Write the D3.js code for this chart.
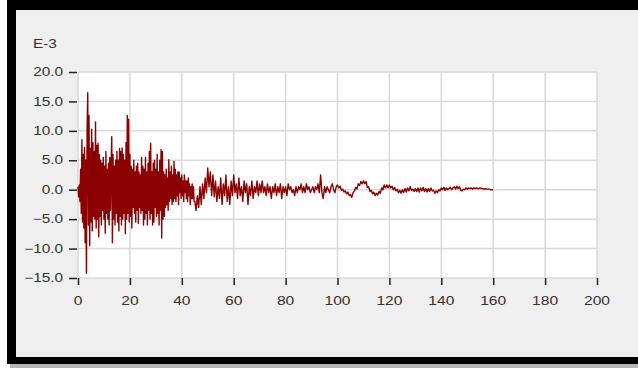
<!DOCTYPE html>
<html>
<head>
<meta charset="utf-8">
<script src="https://cdn.jsdelivr.net/npm/d3@7"></script>
<style>
  html, body { margin: 0; padding: 0; background: #ffffff; }
  svg { display: block; }
</style>
</head>
<body>
<svg id="chart"></svg>
<script>
// time axis ticks (s) and value ticks (E-3)
const xTicks = [0, 20, 40, 60, 80, 100, 120, 140, 160, 180, 200];
const yTicks = [-15, -10, -5, 0, 5, 10, 15, 20];
const unitLabel = "E-3";

// signal: 0..45 s every 0.25 s
const earlyStep = 0.25;
const earlyValues = [
  0.5, -1.2, 0.8, -2.0,   3.5, -4.0, 8.5, -5.5,   6.0, -6.5, 7.2, -9.0,
  5.0, -14.2, 10.0, 16.5, -6.0, 12.6, -9.5, 7.0,  -5.5, 10.3, -7.0, 8.0,
  -4.5, 6.5, -5.0, 11.5,  -6.5, 7.5, -5.0, 7.9,   -8.0, 6.0, -4.5, 5.0,
  -6.0, 4.5, -3.5, 5.5,   -5.0, 4.0, -7.4, 6.5,   -4.0, 3.5, -5.0, 4.5,
  -6.0, 5.5, -3.5, 4.0,   9.0, -9.0, 6.0, -5.0,   4.0, -6.0, 5.0, -4.0,
  6.5, -5.5, 5.0, -7.0,   7.0, -4.5, 6.5, -6.0,   7.1, -5.0, 6.0, -4.0,
  5.0, -7.5, 8.0, -5.0,   12.6, -4.0, 12.0, -5.5, 6.0, -4.5, 4.0, -6.5,
  3.5, -3.0, 5.0, -4.0,   3.0, -5.5, 4.0, -3.5,   4.5, -5.7, 3.0, -3.0,
  2.5, -4.0, 5.5, -3.5,   4.0, -6.0, 3.5, -5.0,   5.5, -4.0, 3.0, -6.0,
  4.5, -3.5, 6.5, -5.0,   7.9, -4.0, 3.0, -6.0,   4.5, -5.5, 5.0, -3.0,
  3.5, -4.5, 6.0, -4.0,   3.0, -6.0, 5.0, -3.5,   6.8, -8.2, 6.5, -5.0,
  3.0, -4.5, 2.5, -3.0,   3.5, -2.5, 2.0, -3.5,   5.1, -2.0, 3.0, -1.5,
  4.0, -2.5, 2.5, -2.0,   4.8, -1.5, 3.5, -2.0,   2.5, -1.0, 3.0, -2.5,
  3.0, -0.5, 2.0, -1.5,   2.5, -1.0, 1.5, -2.0,   2.5, -0.5, 1.5, -1.5,
  1.5, -2.0, 2.0, -1.0,   1.0, -2.5, 0.5, -1.5,   1.0, -1.5, 0.5, -2.0
];

// 45..160 s every 0.5 s
const lateStart = 45;
const lateStep = 0.5;
const lateValues = [
  -2.0, -3.5, -1.0, -3.0, 0.5, -2.5, 1.0, -1.5, 2.0, -0.5,
  3.7, 0.5, 3.0, -1.0, 2.5, -1.2, 1.5, -2.0, 0.5, -1.5,
  2.0, -2.5, 1.0, -1.0, 2.5, -2.0, 0.5, -2.5, 1.5, -1.0,
  2.5, -0.5, 1.0, -1.5, 2.0, -1.0, 0.5, -2.0, 1.5, -0.5,
  1.0, -2.5, 0.5, -1.0, 1.5, -1.5, 0.5, -0.5, 1.5, -1.0,
  1.0, -0.5, 1.5, -0.5, 0.5, -1.0, 1.0, -0.5, 0.5, -1.5,
  0.5, -0.5, 1.0, -1.0, 0.5, -0.5, 1.0, -1.5, 0.5, -0.5,
  0.5, -1.0, 1.0, 0.0, 0.5, -0.5, 0.0, -1.0, 0.5, -0.5,
  0.5, 0.0, 1.0, -0.5, 0.5, -0.5, 1.0, 0.0, 0.5, -0.5,
  0.0, 0.5, -0.5, 0.5, 0.0, 1.0, -0.5, 2.5, -0.5, -1.5,
  0.5, -0.5, 0.5, 0.0, -0.5, 0.5, 1.0, 0.0, -0.5, 0.5,
  0.8, 0.3, 0.6, -0.1, 0.1, -0.4, -0.2, -0.7, -0.4, -1.0,
  -0.8, -1.3, -0.5, -0.2, 0.4, 0.1, 1.0, 0.7, 1.4, 1.0,
  1.5, 1.0, 1.4, 0.4, 0.5, -0.3, -0.1, -0.7, -0.4, -1.0,
  -0.6, -0.9, -0.3, -0.6, 0.3, 0.0, 0.8, 0.3, 0.8, 0.3,
  0.8, 0.3, 0.6, 0.0, 0.4, -0.2, 0.1, -0.5, -0.1, -0.6,
  0.0, -0.5, 0.2, -0.4, 0.3, -0.2, 0.5, -0.1, 0.1, -0.3,
  0.2, -0.3, 0.3, -0.4, 0.3, -0.2, 0.4, -0.3, 0.2, -0.4,
  0.2, -0.3, 0.3, -0.2, -0.1, -0.6, -0.2, -0.5, 0.0, -0.2,
  0.3, 0.0, 0.4, -0.1, 0.3, 0.0, 0.2, 0.4, 0.0, 0.3,
  0.5, 0.1, 0.6, 0.2, 0.5, -0.1, -0.2, 0.1, 0.0, 0.3,
  0.1, 0.3, 0.2, 0.3, 0.1, 0.3, 0.2, 0.3, 0.2, 0.2,
  0.3, 0.2, 0.2, 0.1, 0.2, 0.1, 0.1, 0.1, 0.0, 0.0,
  0.0
];

const W = 638, H = 368;
const plot = { left: 78, right: 597, top: 72, bottom: 278 };
const stretch = 1.28; // labels in the picture are drawn wide

const points = earlyValues.map((v, i) => [i * earlyStep, v])
  .concat(lateValues.map((v, i) => [lateStart + i * lateStep, v]));

const svg = d3.select("#chart")
  .attr("width", W)
  .attr("height", H)
  .attr("font-family", "'Liberation Sans', Arial, sans-serif");

// frame
svg.append("rect").attr("x", 10).attr("y", 362).attr("width", W).attr("height", 6).attr("fill", "#b5b5b5");
svg.append("rect").attr("x", 7).attr("y", 0).attr("width", W).attr("height", 364).attr("fill", "#000");
svg.append("rect").attr("x", 16).attr("y", 10).attr("width", W).attr("height", 347).attr("fill", "#efefef");

const x = d3.scaleLinear().domain([0, 200]).range([plot.left, plot.right]);
const y = d3.scaleLinear().domain([-15, 20]).range([plot.bottom, plot.top]);

svg.append("rect")
  .attr("x", plot.left).attr("y", plot.top)
  .attr("width", plot.right - plot.left).attr("height", plot.bottom - plot.top)
  .attr("fill", "#fff");

// grid
svg.append("g").selectAll("line").data(xTicks).join("line")
  .attr("x1", d => x(d)).attr("x2", d => x(d))
  .attr("y1", plot.top).attr("y2", plot.bottom)
  .attr("stroke", "#d9d9d9").attr("stroke-width", 1.5);
svg.append("g").selectAll("line").data(yTicks).join("line")
  .attr("x1", plot.left).attr("x2", plot.right)
  .attr("y1", d => y(d)).attr("y2", d => y(d))
  .attr("stroke", "#d9d9d9").attr("stroke-width", 1.5);

// axes, tick marks only
svg.append("g")
  .attr("transform", `translate(0,${plot.bottom})`)
  .call(d3.axisBottom(x).tickValues(xTicks).tickSize(7).tickFormat(""))
  .call(g => g.select(".domain").remove())
  .call(g => g.selectAll(".tick line").attr("stroke", "#222").attr("stroke-width", 1.5));

svg.append("g")
  .attr("transform", `translate(${plot.left - 1},0)`)
  .call(d3.axisLeft(y).tickValues(yTicks).tickSize(8).tickFormat(""))
  .call(g => g.select(".domain").remove())
  .call(g => g.selectAll(".tick line").attr("stroke", "#222").attr("stroke-width", 1.5));

// labels
svg.append("g").selectAll("text").data(xTicks).join("text")
  .attr("transform", d => `translate(${x(d)},305) scale(1.2,1)`)
  .attr("text-anchor", "middle")
  .attr("font-size", 13)
  .attr("fill", "#333")
  .text(d => d);

svg.append("g").selectAll("text").data(yTicks).join("text")
  .attr("transform", d => `translate(63,${y(d)}) scale(${stretch},1)`)
  .attr("text-anchor", "end")
  .attr("dy", "0.35em")
  .attr("font-size", 12)
  .attr("fill", "#333")
  .text(d => d3.format(".1f")(d));

svg.append("text")
  .attr("transform", `translate(33,48) scale(${stretch},1)`)
  .attr("font-size", 12)
  .attr("fill", "#333")
  .text(unitLabel);

// signal
const line = d3.line().x(d => x(d[0])).y(d => y(d[1]));
svg.append("path")
  .datum(points)
  .attr("d", line)
  .attr("fill", "none")
  .attr("stroke", "#8b0000")
  .attr("stroke-width", 1.4)
  .attr("stroke-linejoin", "round");
</script>
</body>
</html>
